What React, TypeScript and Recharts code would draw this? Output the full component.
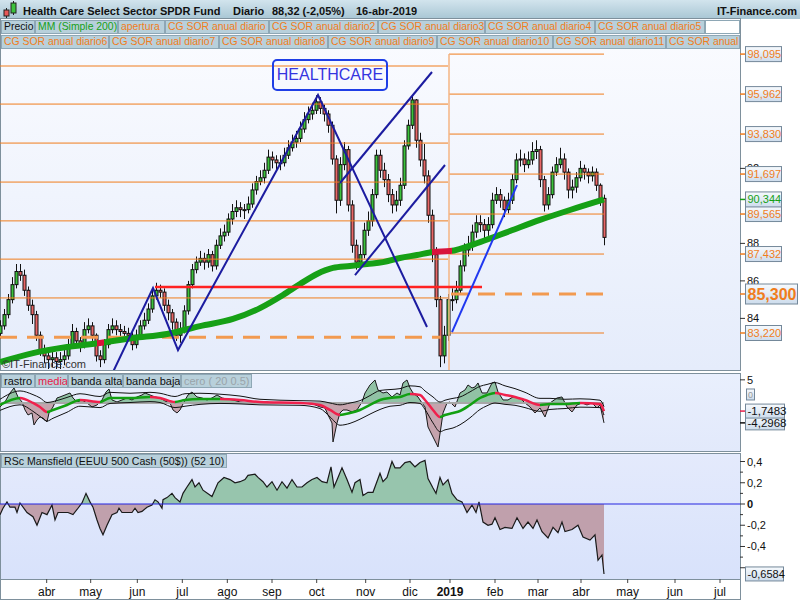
import React from 'react';
import { ComposedChart, Bar, Line, Area, XAxis, YAxis, ReferenceLine } from 'recharts';

const FONT = '"Liberation Sans", Arial, Helvetica, sans-serif';
const ORANGE = '#f07d1c';
const GREEN = '#16a016';
const BORDER = '#7e909c';
const AXIS_X = 740;
// x unit: one slot = two sessions, 185 slots across the plot
const X_DOMAIN: [number, number] = [0, 185];

// ---------- price (one candle per slot) ----------
const firstOpen = 83.2;
const closes = [
  83.6, 84.2, 85.0, 85.8, 86.5, 86.3, 85.5, 84.7, 84.2, 83.1,
  82.3, 82.0, 81.8, 81.9, 81.7, 81.8, 82.0, 82.6, 83.3, 82.8,
  82.6, 83.4, 83.6, 83.1, 82.0, 81.8, 82.6, 83.4, 83.6, 83.4,
  83.3, 83.2, 83.1, 82.6, 83.1, 83.6, 83.9, 84.5, 85.2, 85.5,
  85.4, 84.7, 84.3, 83.8, 83.1, 83.4, 84.4, 85.8, 86.6, 87.0,
  87.2, 87.0, 87.4, 86.8, 87.9, 88.4, 88.6, 89.3, 89.7, 89.9,
  89.8, 89.8, 90.1, 90.85, 91.3, 91.5, 91.9, 92.6, 92.45, 92.3,
  92.3, 92.7, 93.1, 93.4, 93.6, 94.1, 94.6, 94.9, 95.1, 95.55,
  95.2, 94.9, 94.3, 92.5, 90.3, 92.2, 93.0, 90.05, 87.9, 87.0,
  87.4, 88.7, 89.2, 90.6, 92.7, 91.9, 91.4, 90.6, 90.05, 90.3,
  91.1, 93.2, 94.3, 95.65, 93.5, 92.45, 91.6, 89.5, 87.4, 85.0,
  82.0, 83.1, 85.0, 85.0, 85.5, 86.8, 87.65, 87.9, 88.6, 89.1,
  89.0, 88.7, 89.0, 90.3, 90.6, 90.3, 89.8, 90.3, 91.4, 92.45,
  92.5, 92.2, 92.45, 92.9, 93.0, 91.4, 90.05, 90.6, 91.8, 92.2,
  92.5, 91.8, 90.85, 91.0, 91.5, 92.0, 91.8, 91.6, 91.8, 91.1,
  90.4, 88.32,
];
const highs = [
  83.9, 84.5, 85.3, 86.2, 86.9, 86.9, 86.6, 85.7, 85.0, 84.4,
  83.3, 82.6, 82.3, 82.3, 82.2, 82.2, 82.4, 82.9, 83.7, 83.5,
  83.0, 83.8, 84.0, 83.8, 83.2, 82.3, 82.9, 83.7, 84.0, 83.9,
  83.7, 83.6, 83.5, 83.3, 83.4, 83.9, 84.3, 84.8, 85.6, 85.9,
  85.8, 85.6, 85.0, 84.5, 84.0, 83.8, 84.7, 86.0, 86.9, 87.3,
  87.6, 87.5, 87.7, 87.6, 88.2, 88.8, 89.0, 89.6, 90.1, 90.3,
  90.2, 90.1, 90.5, 91.2, 91.6, 91.9, 92.3, 93.0, 92.9, 92.7,
  92.7, 93.1, 93.5, 93.8, 94.0, 94.5, 95.0, 95.3, 95.5, 95.9,
  95.8, 95.4, 95.1, 94.5, 92.7, 92.6, 93.4, 93.2, 90.3, 88.2,
  87.9, 89.1, 89.7, 90.9, 93.0, 93.0, 92.3, 91.7, 90.9, 90.8,
  91.5, 93.5, 94.6, 95.9, 95.7, 93.9, 93.3, 91.9, 89.8, 87.8,
  85.2, 83.6, 85.3, 85.6, 86.0, 87.1, 88.0, 88.4, 89.0, 89.5,
  89.5, 89.3, 89.4, 90.7, 91.0, 90.9, 90.5, 90.7, 91.7, 92.8,
  93.0, 92.8, 92.9, 93.4, 93.5, 93.2, 91.6, 91.0, 92.1, 92.6,
  93.1, 92.8, 92.0, 91.4, 91.8, 92.4, 92.2, 92.0, 92.1, 92.0,
  91.2, 90.6,
];
const lows = [
  82.9, 83.4, 84.0, 84.8, 85.6, 86.0, 85.2, 84.4, 83.7, 82.8,
  82.0, 81.6, 81.3, 81.4, 81.3, 81.3, 81.5, 81.8, 82.4, 82.5,
  82.2, 82.4, 83.2, 82.8, 81.7, 81.4, 81.6, 82.4, 83.2, 83.1,
  83.0, 82.9, 82.8, 82.3, 82.4, 82.9, 83.4, 83.7, 84.3, 85.0,
  85.1, 84.4, 83.9, 83.4, 82.8, 82.7, 83.2, 84.2, 85.6, 86.4,
  86.8, 86.6, 86.7, 86.5, 86.6, 87.7, 88.1, 88.4, 89.0, 89.4,
  89.4, 89.3, 89.6, 89.9, 90.6, 91.1, 91.2, 91.7, 92.0, 91.9,
  91.9, 92.1, 92.5, 92.9, 93.1, 93.4, 93.9, 94.4, 94.6, 94.9,
  94.9, 94.5, 93.9, 92.2, 89.6, 90.0, 91.9, 89.7, 87.5, 86.6,
  86.7, 87.2, 88.4, 88.9, 90.4, 91.5, 91.0, 90.2, 89.6, 89.7,
  90.0, 90.9, 93.0, 94.1, 93.1, 92.1, 91.2, 89.1, 87.0, 84.6,
  81.4, 81.6, 82.8, 84.4, 84.8, 85.3, 86.5, 87.3, 87.6, 88.3,
  88.6, 88.2, 88.4, 88.8, 90.1, 89.9, 89.4, 89.6, 90.1, 91.2,
  92.1, 91.8, 92.0, 92.2, 92.5, 91.0, 89.7, 89.8, 90.4, 91.6,
  92.0, 91.4, 90.4, 90.4, 90.7, 91.3, 91.4, 91.2, 91.3, 90.8,
  90.0, 87.9,
];
const lastChangePct = -2.05;
const lastDate = '16-abr-2019';

// MM (Simple 200): [slot, value]
const ma200: [number, number][] = [
  [0, 81.67], [8.25, 82.15], [16.75, 82.47], [25, 82.69], [33.25, 82.95], [41.75, 83.17],
  [50, 83.59], [58.25, 83.97], [65, 84.55], [70.75, 85.25], [75, 85.83], [79.25, 86.37],
  [83.25, 86.69], [87.5, 86.79], [91.75, 86.9], [95.75, 87.0], [100, 87.22], [104.25, 87.38],
  [108.25, 87.54], [112.5, 87.59], [120, 88.07], [127.5, 88.66], [135, 89.25], [142.5, 89.78],
  [151, 90.344],
];
const ma200Falling: [number, number][] = [[24.25, 26], [108, 113]];

// CG SOR anual levels
const sor2018 = [97.46, 95.43, 93.35, 91.27, 89.2, 87.16, 85.09];
const sor2018Centre = 83.0;
const sor2019 = [98.095, 95.962, 93.83, 91.697, 89.565, 87.432, 83.22];
const sor2019Centre = 85.3;
const yearBreak = 112.25;
const lastSlot = 151;

// hand-drawn lines: [slot, price]
const zigzag: [number, number][] = [[28.25, 81.14], [38.25, 85.62], [44.5, 82.31], [79.5, 95.91], [106.75, 83.54]];
const channelHigh: [number, number][] = [[85, 91.22], [108, 97.14]];
const channelLow: [number, number][] = [[88.75, 86.31], [111.25, 92.18]];
const reboundLine: [number, number][] = [[113, 83.27], [129.25, 91.11]];
const resistance = { from: 38.75, to: 120.5, price: 85.67 };

// the other whole-number ticks sit under the value boxes
const pricePlainTicks = [84, 86, 88, 92];

// ---------- rastro panel ----------
const rastro: [number, number][] = [
  [0, -0.86], [1.25, 0.22], [2.5, 2.16], [3.5, 3.24], [4.5, 1.3], [5.5, 0.22], [6.25, -1.51], [7, -2.59], [8, -2.16], [8.5, -4.75],
  [9.25, -3.67], [10, -3.02], [10.75, -3.24], [11.75, -4.1], [12.25, -2.16], [13.25, -0.86], [14.25, 1.08], [15, 1.3], [16.25, 1.73], [17.5, 2.16],
  [18.25, 1.08], [19.25, 0.22], [20.5, 0.65], [21.75, 0], [23, -0.86], [24.25, -0.43], [25.5, 0.65], [26.5, 2.38], [27.25, 3.02], [28, 0.65],
  [29.25, 0.22], [30.5, 0.65], [31.75, 1.08], [33, 0.65], [34.25, 1.3], [35.5, 1.73], [36.25, 2.16], [37.5, 1.73], [38.75, 1.3], [40, 1.08],
  [41.25, 0.43], [42.5, 0], [43.25, -1.51], [44.25, -2.16], [45, -1.51], [46, 0.22], [47, 1.73], [48, 2.38], [49.25, 1.3], [50.5, 1.08],
  [51.75, 0.65], [53, 1.08], [54.25, 1.73], [55.5, 1.08], [56.75, 0.86], [58.25, 0.65], [60, 0.22], [61.75, 0.1], [63.25, -0.1], [65, 0.15],
  [66.75, 0.22], [68.25, -0.1], [70, 0.1], [71.75, -0.1], [75, 0.1], [78.25, -0.22], [80, -0.86], [81.25, -1.08], [82, -2.59], [83, -4.32],
  [83.25, -8.42], [84.25, -4.32], [85, -2.16], [85.75, -1.51], [86.75, -1.51], [88, -1.94], [89.25, -1.51], [90.5, 0.22], [91.25, 2.16], [92.5, 3.89],
  [93.75, 4.97], [94.5, 2.81], [95.75, 2.16], [96.75, 2.38], [98, 1.3], [99.25, 2.16], [100, 1.73], [100.75, 4.32], [101.75, 4.97], [102.5, 3.24],
  [103.25, 2.16], [104.5, 1.3], [105.5, 0], [106.25, -0.86], [107, -5.18], [108.25, -7.34], [109.5, -9.5], [110.25, -5.18], [110.75, -2.16], [111.75, 0],
  [112.5, 0.22], [113.75, -0.86], [115, 2.16], [116.25, 2.81], [117, 3.89], [118, 3.24], [118.75, 3.46], [119.5, 4.32], [120.5, 2.16], [121.75, 2.16],
  [123, 4.32], [123.75, 4.54], [124.5, 2.38], [125.75, 0.65], [127, 0.65], [128.25, 1.3], [130, 1.08], [131.25, 0], [132.5, -0.86], [133.75, -2.16],
  [135, -1.08], [136.25, -3.02], [137.5, 0], [139.25, 1.08], [140.5, 1.3], [141.75, -0.86], [143, -1.94], [144.25, -0.43], [145.5, 0], [146.75, -0.43],
  [148, 0], [149.25, -1.08], [150, -0.43], [151, -4.2968],
];
const mediaX = [0, 5, 8.25, 10, 11.75, 13.25, 16.75, 20, 25, 27.5, 32.5, 37.5, 40, 43.75, 46.25, 50, 55, 60, 65, 75,
  80, 82.5, 85, 87.5, 90, 92.5, 95, 97.5, 100, 102.5, 105, 106.25, 108.25, 110, 111.25, 113.25, 115, 117.5, 120, 121.75,
  123.75, 126.25, 128.75, 131.25, 135, 137.5, 141.25, 145, 150, 151];
const mediaV = [-0.43, 1.08, 0, -0.86, -1.94, -1.51, -0.43, 0.65, 0.22, 1.08, 1.08, 1.3, 1.08, 0.22, 0.65, 0.86, 0.86, 0.65, 0.22, 0,
  -0.43, -1.51, -2.59, -2.16, -1.51, -0.43, 0.65, 1.08, 1.3, 1.94, 1.73, 0.65, -1.51, -3.02, -2.59, -2.16, -1.73, -0.43, 1.08, 1.73,
  2.16, 1.73, 1.3, 0.65, -0.43, -0.22, -0.22, 0, -0.22, -1.7483];
const bandaAlta = [0.8, 2.6, 1.8, 1.1, 0.1, 0.3, 1.2, 2.0, 1.4, 2.3, 2.1, 2.3, 2.1, 1.4, 2.0, 2.1, 1.9, 1.5, 0.8, 0.5,
  0.4, 0, -0.4, 0, 0.5, 1.6, 2.7, 2.9, 3.1, 3.7, 3.5, 2.6, 1.3, 0.2, 0.6, 1.0, 1.3, 2.4, 3.6, 4.0,
  4.4, 3.7, 3.1, 2.3, 1.0, 1.0, 0.8, 0.9, 0.6, -0.8];
const bandaBaja = [-1.6, -0.4, -1.8, -2.9, -3.9, -3.3, -2.0, -0.7, -1.0, -0.1, 0.1, 0.3, 0.1, -1.0, -0.7, -0.3, -0.1, -0.2, -0.4, -0.5,
  -1.2, -3.0, -4.8, -4.4, -3.5, -2.4, -1.4, -0.7, -0.5, 0.1, -0.1, -1.4, -4.3, -6.2, -5.8, -5.4, -4.7, -3.2, -1.4, -0.6,
  0, -0.3, -0.5, -1.0, -1.8, -1.4, -1.2, -0.9, -1.0, -2.6];

// ---------- RSc Mansfield ----------
const rsc: [number, number][] = [
  [0, -0.10], [0.75, -0.04], [1.75, 0.02], [2.5, -0.03], [3.75, -0.03], [4.25, -0.08], [5, 0.01], [6.75, -0.08], [8.25, -0.12], [9.25, -0.20],
  [10.5, -0.08], [11.75, -0.10], [13, -0.01], [13.75, -0.15], [14.5, -0.08], [15.75, -0.08], [17, -0.08], [18.25, -0.10], [19.5, -0.04], [20.5, 0.01],
  [21.5, 0.10], [22.5, 0.02], [23.25, -0.03], [24.25, -0.15], [25, -0.23], [25.75, -0.29], [26.75, -0.20], [28, -0.10], [29.25, -0.08], [29.75, -0.04],
  [30.5, -0.08], [31.75, -0.08], [33, -0.08], [33.75, -0.04], [34.5, -0.08], [35.5, -0.07], [36.75, -0.03], [38, -0.01], [38.75, 0.04], [39.5, 0.02],
  [40.5, -0.04], [40.75, 0.04], [41.75, 0.06], [43, 0.10], [43.75, 0.06], [45, 0.02], [45.75, 0.10], [46.75, 0.16], [48, 0.23], [48.75, 0.16],
  [49.75, 0.20], [50.75, 0.13], [53, 0.07], [54.5, 0.20], [56, 0.25], [57.5, 0.23], [58.75, 0.20], [60, 0.21], [61.25, 0.23], [62, 0.27],
  [63.75, 0.28], [64.5, 0.25], [65.75, 0.21], [66.75, 0.16], [68, 0.21], [69.25, 0.13], [70.5, 0.21], [71.75, 0.15], [73, 0.23], [74.25, 0.16],
  [75.5, 0.16], [76.75, 0.20], [78, 0.23], [79.25, 0.25], [80.5, 0.21], [81.75, 0.20], [82.75, 0.35], [83.5, 0.16], [84.5, 0.25], [85.5, 0.34],
  [86.75, 0.23], [88, 0.11], [88.75, 0.20], [90, 0.23], [90.75, 0.08], [92, 0.11], [93.25, 0.11], [95, 0.29], [95.75, 0.21], [96.75, 0.25],
  [98, 0.40], [98.75, 0.34], [100, 0.34], [101.25, 0.39], [102.5, 0.40], [103.75, 0.35], [105, 0.39], [106.25, 0.41], [107, 0.24], [108.25, 0.15],
  [109, 0.10], [110, 0.25], [110.75, 0.18], [112, 0.23], [113, 0.10], [114.25, 0.04], [115.5, 0.02], [116.75, -0.08], [118, -0.01], [119, -0.08],
  [119.75, 0.02], [120.75, -0.17], [122, -0.20], [123, -0.19], [123.75, -0.13], [125, -0.24], [126.25, -0.22], [128, -0.23], [129.25, -0.13], [130.75, -0.23],
  [132, -0.17], [133.25, -0.23], [134.25, -0.15], [135.5, -0.26], [137, -0.32], [138.25, -0.22], [139.5, -0.27], [140.5, -0.17], [141.25, -0.26], [143, -0.24],
  [144.5, -0.20], [145.75, -0.31], [147.5, -0.34], [148.75, -0.29], [149.5, -0.53], [150.5, -0.48], [151, -0.6584],
];

const monthTicks = [11.67, 22.67, 34.33, 45.58, 56.83, 68, 79.17, 91.42, 102.5, 112.5, 123.75, 134.5, 145.25, 156.92, 168.75, 180];
const monthLabels = ['abr', 'may', 'jun', 'jul', 'ago', 'sep', 'oct', 'nov', 'dic', '2019', 'feb', 'mar', 'abr', 'may', 'jun', 'jul'];

// ---------- tables for recharts ----------
const candleData = closes.map((c, i) => ({
  x: i,
  range: [lows[i], highs[i]],
  open: i === 0 ? firstOpen : closes[i - 1],
  close: c,
  high: highs[i],
  low: lows[i],
}));
const lastClose = closes[closes.length - 1];
const maLast = ma200[ma200.length - 1][1];
const toXY = (pts: [number, number][]) => pts.map(([x, v]) => ({ x, v }));
const mediaData = mediaX.map((x, i) => ({ x, m: mediaV[i], hi: bandaAlta[i], lo: bandaBaja[i] }));
const rastroData = toXY(rastro);
const rscData = toXY(rsc);

const comma = (v: number, d: number) => v.toFixed(d).replace('.', ',');
const splitOffset = (vals: number[]) => {
  const mx = Math.max(...vals);
  const mn = Math.min(...vals);
  return mx / (mx - mn);
};

function Candle(props: any) {
  const { x, y, width, height, payload } = props;
  if (!payload) return null;
  const top = Math.min(y, y + height);
  const h = Math.abs(height);
  const k = h / (payload.high - payload.low || 1);
  const yO = top + (payload.high - payload.open) * k;
  const yC = top + (payload.high - payload.close) * k;
  const cx = Math.round(x + width / 2) + 0.5;
  const bTop = Math.min(yO, yC);
  const bH = Math.max(Math.abs(yO - yC), 1);
  const up = payload.close >= payload.open;
  return (
    <g>
      <line x1={cx} x2={cx} y1={top} y2={top + h} stroke="#111" strokeWidth={1} />
      <rect x={cx - 1.5} y={bTop} width={3} height={bH} fill={up ? '#3cc23c' : '#e86767'} stroke="#111" strokeWidth={1} />
    </g>
  );
}

function ValueBox({ y, text, color, w = 36, h = 15, size = 11, bold = false, grad }: any) {
  return (
    <g>
      <rect x={AXIS_X + 5.5} y={y - h / 2} width={w} height={h} fill={`url(#${grad})`} stroke="#74889a" />
      <text x={AXIS_X + 7.5} y={y + size * 0.36} fontSize={size} fontWeight={bold ? 'bold' : 'normal'} fontFamily={FONT} fill={color}>
        {text}
      </text>
    </g>
  );
}

function PriceTick(props: any) {
  const { y, payload } = props;
  const v = payload.value;
  if (pricePlainTicks.includes(v)) {
    return (
      <g>
        <line x1={AXIS_X} x2={AXIS_X + 5} y1={y} y2={y} stroke="#333" />
        <text x={AXIS_X + 7} y={y + 4} fontSize={11} fontFamily={FONT} fill="#111">{v}</text>
      </g>
    );
  }
  const isMa = v === maLast;
  const big = v === sor2019Centre;
  const color = isMa ? GREEN : ORANGE;
  return (
    <g>
      <line x1={AXIS_X} x2={AXIS_X + 6} y1={y} y2={y} stroke={color} strokeWidth={1.5} />
      <ValueBox y={y} text={comma(v, 3)} color={color} grad="boxA" w={big ? 52 : 36} h={big ? 20 : 15} size={big ? 16 : 11} bold={big} />
    </g>
  );
}

function RastroTick(props: any) {
  const { y, payload } = props;
  const v = payload.value;
  if (v === 5) {
    return (
      <g>
        <line x1={AXIS_X} x2={AXIS_X + 5} y1={y} y2={y} stroke="#333" />
        <text x={AXIS_X + 7} y={y + 4} fontSize={11} fontFamily={FONT} fill="#111">{v}</text>
      </g>
    );
  }
  if (v === 0) {
    return (
      <g>
        <rect x={AXIS_X + 6.5} y={y - 14} width={8} height={11} fill="url(#boxB)" stroke="#74889a" />
        <text x={AXIS_X + 8} y={y - 5} fontSize={9} fontFamily={FONT} fill="#999">0</text>
      </g>
    );
  }
  const isMedia = v === mediaV[mediaV.length - 1];
  return (
    <g>
      <line x1={AXIS_X} x2={AXIS_X + 5} y1={y} y2={y} stroke={isMedia ? '#e8204a' : '#111'} strokeWidth={1.5} />
      <ValueBox y={y} text={comma(v, 4)} color="#111" grad="boxB" w={39} h={14} size={11.5} />
    </g>
  );
}

function RscTick(props: any) {
  const { y, payload } = props;
  const v = payload.value;
  const last = rsc[rsc.length - 1][1];
  if (v === last) {
    return <ValueBox y={y} text={comma(v, 4)} color="#111" grad="boxC" w={38} h={14} size={11} />;
  }
  const major = Math.abs(Math.round(v * 10) % 2) === 0;
  return (
    <g>
      <line x1={AXIS_X} x2={AXIS_X + (major ? 5 : 3)} y1={y} y2={y} stroke="#333" />
      {major && Math.abs(v) < 0.5 && (
        <text x={AXIS_X + 7} y={y + 4} fontSize={11} fontFamily={FONT} fontWeight={v === 0 ? 'bold' : 'normal'} fill="#111">
          {v === 0 ? '0' : comma(v, 1)}
        </text>
      )}
    </g>
  );
}

function MonthTick(props: any) {
  const { x, payload } = props;
  const label = monthLabels[monthTicks.indexOf(payload.value)];
  const axisY = 125;
  return (
    <g>
      <line x1={x} x2={x} y1={axisY} y2={axisY + 4} stroke="#444" />
      <text x={x} y={axisY + 17} textAnchor="middle" fontSize={12} fontFamily={FONT} fontWeight={label === '2019' ? 'bold' : 'normal'} fill="#111">
        {label}
      </text>
    </g>
  );
}

function BoxGrad({ id }: { id: string }) {
  return (
    <linearGradient id={id} x1="0" y1="0" x2="0" y2="1">
      <stop offset="0" stopColor="#f7fafd" />
      <stop offset="1" stopColor="#cddcec" />
    </linearGradient>
  );
}

const legendMain: [string, string, number, number, number][] = [
  ['Precio', '#111', 1, 20, 34], ['MM (Simple 200)', GREEN, 35, 20, 83], ['apertura', ORANGE, 118, 20, 47],
  ['CG SOR anual diario', ORANGE, 165, 20, 104], ['CG SOR anual diario2', ORANGE, 269, 20, 109],
  ['CG SOR anual diario3', ORANGE, 378, 20, 107], ['CG SOR anual diario4', ORANGE, 485, 20, 110],
  ['CG SOR anual diario5', ORANGE, 595, 20, 110],
  ['CG SOR anual diario6', ORANGE, 1, 35, 108], ['CG SOR anual diario7', ORANGE, 109, 35, 110],
  ['CG SOR anual diario8', ORANGE, 219, 35, 109], ['CG SOR anual diario9', ORANGE, 328, 35, 109],
  ['CG SOR anual diario10', ORANGE, 437, 35, 116], ['CG SOR anual diario11', ORANGE, 553, 35, 113],
  ['CG SOR anual', ORANGE, 666, 35, 74],
];
const legendRastro: [string, string, number, number, number][] = [
  ['rastro', '#111', 1, 374, 34], ['media', '#e8204a', 35, 374, 33], ['banda alta', '#111', 68, 374, 55],
  ['banda baja', '#111', 123, 374, 58], ['cero ( 20 0.5)', '#9aa4aa', 181, 374, 71],
];

function LegendBox({ text, color, left, top, width, size }: any) {
  return (
    <div style={{
      position: 'absolute', left, top, width, height: 14, boxSizing: 'border-box',
      border: '1px solid #8ea7b5', background: '#b8d0db', color, fontSize: size, lineHeight: '12px',
      padding: '0 0 0 2px', whiteSpace: 'nowrap', overflow: 'hidden', fontFamily: FONT,
    }}>{text}</div>
  );
}

const panel = (top: number, height: number, from: string, to: string): React.CSSProperties => ({
  position: 'absolute', left: 0, top, width: 741, height, boxSizing: 'border-box',
  border: `1px solid ${BORDER}`, background: `linear-gradient(${from}, ${to})`,
});

export default function App() {
  const maStops: React.ReactNode[] = [];
  let prev = 0;
  ma200Falling.forEach(([a, b], i) => {
    maStops.push(
      <stop key={`g${i}a`} offset={prev / X_DOMAIN[1]} stopColor={GREEN} />,
      <stop key={`g${i}b`} offset={a / X_DOMAIN[1]} stopColor={GREEN} />,
      <stop key={`r${i}a`} offset={a / X_DOMAIN[1]} stopColor="#d8143c" />,
      <stop key={`r${i}b`} offset={b / X_DOMAIN[1]} stopColor="#d8143c" />,
    );
    prev = b;
  });
  maStops.push(<stop key="gend1" offset={prev / X_DOMAIN[1]} stopColor={GREEN} />, <stop key="gend2" offset={1} stopColor={GREEN} />);

  const mediaStops: React.ReactNode[] = [];
  for (let i = 0; i < mediaX.length - 1; i++) {
    const col = mediaV[i + 1] < mediaV[i] ? '#f0204c' : '#12a012';
    mediaStops.push(
      <stop key={`m${i}a`} offset={mediaX[i] / X_DOMAIN[1]} stopColor={col} />,
      <stop key={`m${i}b`} offset={mediaX[i + 1] / X_DOMAIN[1]} stopColor={col} />,
    );
  }

  const rastroOff = splitOffset(rastro.map((p) => p[1]));
  const rscOff = splitOffset(rsc.map((p) => p[1]));
  const blue = '#1c1ca0';

  return (
    <div style={{ position: 'absolute', left: 0, top: 0, width: 800, height: 600, background: '#fff', overflow: 'hidden', fontFamily: FONT }}>
      {/* title bar */}
      <svg width={800} height={19} style={{ position: 'absolute', left: 0, top: 0 }}>
        <defs>
          <linearGradient id="titleBg" x1="0" y1="0" x2="0" y2="1">
            <stop offset="0" stopColor="#d2e4ed" />
            <stop offset="1" stopColor="#a8c6d4" />
          </linearGradient>
        </defs>
        <rect x={0} y={0} width={800} height={19} fill="url(#titleBg)" />
        <line x1={6.5} x2={6.5} y1={8} y2={18} stroke="#222" />
        <rect x={4} y={10} width={5} height={6} fill="#e85858" stroke="#222" />
        <line x1={13.5} x2={13.5} y1={1} y2={15} stroke="#222" />
        <rect x={11} y={3} width={5} height={10} fill="#3cc23c" stroke="#222" />
        <g fontFamily={FONT} fontSize={11} fontWeight="bold" fill="#111">
          <text x={23} y={15}>Health Care Select Sector SPDR Fund</text>
          <text x={233} y={15}>Diario</text>
          <text x={272} y={15}>{`${comma(lastClose, 2)} (${comma(lastChangePct, 2)}%)`}</text>
          <text x={356} y={15}>{lastDate}</text>
          <text x={797} y={15} textAnchor="end">IT-Finance.com</text>
        </g>
      </svg>

      {/* panel backgrounds */}
      <div style={panel(18, 353, '#fbfcff', '#e5ecfb')} />
      <div style={panel(373, 79, '#e9effd', '#e2e9fb')} />
      <div style={panel(453, 127, '#e4eafc', '#d8e2fb')} />
      <div style={{ position: 'absolute', left: 0, top: 579, width: 741, height: 21, boxSizing: 'border-box', borderLeft: `1px solid ${BORDER}`, borderRight: `1px solid ${BORDER}`, borderBottom: `1px solid ${BORDER}` }} />

      {/* price panel */}
      <div style={{ position: 'absolute', left: 0, top: 19 }}>
        <ComposedChart width={800} height={351} data={candleData} margin={{ top: 0, right: 0, bottom: 0, left: 0 }}>
          <defs>
            <linearGradient id="maGrad" gradientUnits="userSpaceOnUse" x1={0} y1={0} x2={AXIS_X} y2={0}>{maStops}</linearGradient>
            <BoxGrad id="boxA" />
          </defs>
          <XAxis dataKey="x" type="number" domain={X_DOMAIN} hide allowDataOverflow />
          <YAxis
            orientation="right" width={60} domain={[81.247, 99.967]} allowDataOverflow
            ticks={[...pricePlainTicks, ...sor2019, sor2019Centre, maLast]} interval={0}
            axisLine={false} tickLine={false} tick={(p: any) => <PriceTick {...p} />}
          />
          {sor2018.map((v) => (
            <ReferenceLine key={`a${v}`} segment={[{ x: 0, y: v }, { x: yearBreak - 0.25, y: v }]} stroke={ORANGE} strokeWidth={1} />
          ))}
          <ReferenceLine segment={[{ x: 0, y: sor2018Centre }, { x: yearBreak - 2, y: sor2018Centre }]} stroke="#f29a50" strokeWidth={3} strokeDasharray="17 10" />
          {sor2019.map((v) => (
            <ReferenceLine key={`b${v}`} segment={[{ x: yearBreak, y: v }, { x: lastSlot, y: v }]} stroke={ORANGE} strokeWidth={1} />
          ))}
          <ReferenceLine segment={[{ x: yearBreak + 0.5, y: sor2019Centre }, { x: lastSlot, y: sor2019Centre }]} stroke="#f29a50" strokeWidth={3} strokeDasharray="17 10" />
          <ReferenceLine segment={[{ x: yearBreak, y: 81.25 }, { x: yearBreak, y: sor2019[0] }]} stroke="#f5b483" strokeWidth={1.5} />
          <Bar dataKey="range" barSize={3} isAnimationActive={false} shape={(p: any) => <Candle {...p} />} />
          <Line data={toXY(ma200)} dataKey="v" type="monotone" stroke="url(#maGrad)" strokeWidth={6} dot={false} isAnimationActive={false} />
          <ReferenceLine segment={[{ x: resistance.from, y: resistance.price }, { x: resistance.to, y: resistance.price }]} stroke="#ff2222" strokeWidth={2.5} />
          <Line data={toXY(zigzag)} dataKey="v" type="linear" stroke={blue} strokeWidth={2} dot={false} isAnimationActive={false} />
          <Line data={toXY(channelHigh)} dataKey="v" type="linear" stroke={blue} strokeWidth={2} dot={false} isAnimationActive={false} />
          <Line data={toXY(channelLow)} dataKey="v" type="linear" stroke={blue} strokeWidth={2} dot={false} isAnimationActive={false} />
          <Line data={toXY(reboundLine)} dataKey="v" type="linear" stroke="#2038f0" strokeWidth={2} dot={false} isAnimationActive={false} />
        </ComposedChart>
      </div>

      {/* rastro panel */}
      <div style={{ position: 'absolute', left: 0, top: 374 }}>
        <ComposedChart width={800} height={77} data={rastroData} margin={{ top: 0, right: 0, bottom: 0, left: 0 }}>
          <defs>
            <linearGradient id="rastroFill" x1="0" y1="0" x2="0" y2="1">
              <stop offset={rastroOff} stopColor="#91c2a5" />
              <stop offset={rastroOff} stopColor="#c5a3ad" />
            </linearGradient>
            <linearGradient id="mediaGrad" gradientUnits="userSpaceOnUse" x1={0} y1={0} x2={AXIS_X} y2={0}>{mediaStops}</linearGradient>
            <BoxGrad id="boxB" />
          </defs>
          <XAxis dataKey="x" type="number" domain={X_DOMAIN} hide allowDataOverflow />
          <YAxis
            orientation="right" width={60} domain={[-10.37, 6.26]} allowDataOverflow
            ticks={[5, 0, rastro[rastro.length - 1][1], mediaV[mediaV.length - 1]]} interval={0}
            axisLine={false} tickLine={false} tick={(p: any) => <RastroTick {...p} />}
          />
          <ReferenceLine segment={[{ x: 0, y: 0 }, { x: lastSlot, y: 0 }]} stroke="#a7a7a7" strokeWidth={2} />
          <Area dataKey="v" type="linear" baseValue={0} fill="url(#rastroFill)" fillOpacity={1} stroke="#1a1a1a" strokeWidth={1} isAnimationActive={false} />
          <Line data={mediaData} dataKey="hi" type="monotone" stroke="#111" strokeWidth={1} dot={false} isAnimationActive={false} />
          <Line data={mediaData} dataKey="lo" type="monotone" stroke="#111" strokeWidth={1} dot={false} isAnimationActive={false} />
          <Line data={mediaData} dataKey="m" type="monotone" stroke="url(#mediaGrad)" strokeWidth={2.5} dot={false} isAnimationActive={false} />
        </ComposedChart>
      </div>

      {/* RSc Mansfield panel + time axis */}
      <div style={{ position: 'absolute', left: 0, top: 454 }}>
        <ComposedChart width={800} height={146} data={rscData} margin={{ top: 0, right: 0, bottom: 0, left: 0 }}>
          <defs>
            <linearGradient id="rscFill" x1="0" y1="0" x2="0" y2="1">
              <stop offset={rscOff} stopColor="#97c5ad" />
              <stop offset={rscOff} stopColor="#c0a0ac" />
            </linearGradient>
            <BoxGrad id="boxC" />
          </defs>
          <XAxis
            dataKey="x" type="number" domain={X_DOMAIN} allowDataOverflow height={21}
            ticks={monthTicks} interval={0} axisLine={false} tickLine={false} tick={(p: any) => <MonthTick {...p} />}
          />
          <YAxis
            orientation="right" width={60} domain={[-0.7059, 0.4706]} allowDataOverflow
            ticks={[0.4, 0.3, 0.2, 0.1, 0, -0.1, -0.2, -0.3, -0.4, -0.5, -0.6, rsc[rsc.length - 1][1]]} interval={0}
            axisLine={false} tickLine={false} tick={(p: any) => <RscTick {...p} />}
          />
          <Area dataKey="v" type="linear" baseValue={0} fill="url(#rscFill)" fillOpacity={1} stroke="#1a1a1a" strokeWidth={1.2} isAnimationActive={false} />
          <ReferenceLine y={0} stroke="#2424e0" strokeWidth={1.2} />
        </ComposedChart>
      </div>

      {/* legends and notes */}
      {legendMain.map(([t, c, l, tp, w]) => (
        <LegendBox key={t} text={t} color={c} left={l} top={tp} width={w} size={10.4} />
      ))}
      <div style={{ position: 'absolute', left: 705, top: 20, width: 35, height: 14, boxSizing: 'border-box', border: '1px solid #8ea7b5', background: '#fff' }} />
      {legendRastro.map(([t, c, l, tp, w]) => (
        <LegendBox key={t} text={t} color={c} left={l} top={tp} width={w} size={11} />
      ))}
      <LegendBox text="RSc Mansfield (EEUU 500 Cash (50$)) (52 10)" color="#111" left={1} top={454} width={226} size={10.6} />
      <div style={{
        position: 'absolute', left: 272, top: 59, width: 116, height: 32, boxSizing: 'border-box',
        border: '2px solid #1f3ee6', borderRadius: 5, color: '#3434e0', fontSize: 16, lineHeight: '28px',
        textAlign: 'center', fontFamily: FONT,
      }}>HEALTHCARE</div>
      <div style={{ position: 'absolute', left: 2, top: 358, fontSize: 11, color: '#333', fontFamily: FONT }}>©IT-Finance.com</div>
    </div>
  );
}
